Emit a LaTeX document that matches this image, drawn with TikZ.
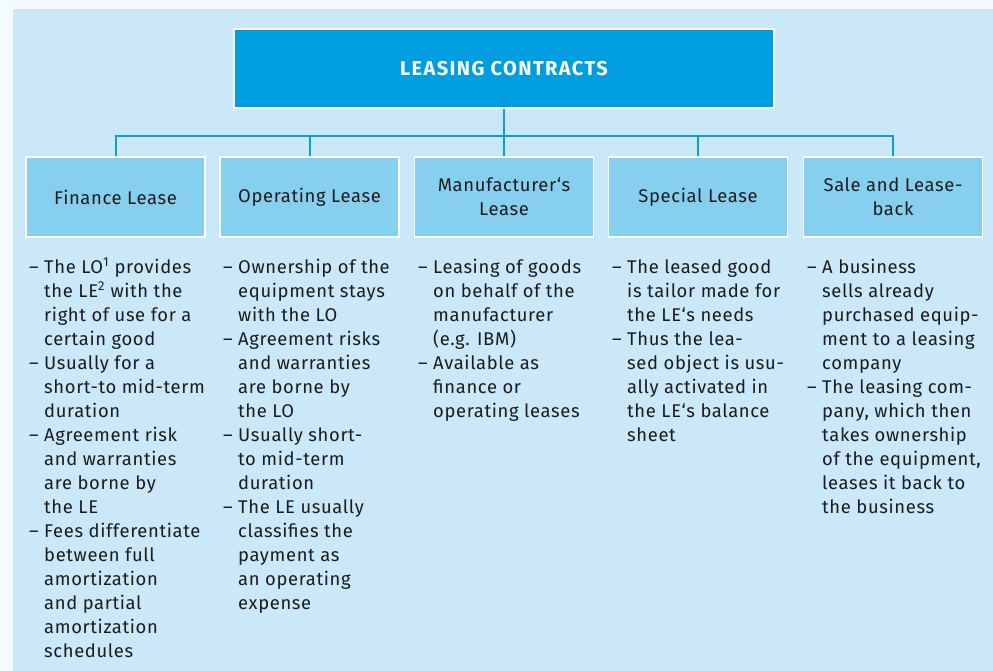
\documentclass[tikz,border=0pt]{standalone}
\usepackage{fontspec}
\setmainfont{Fira Sans}[LetterSpace=3.5]
\newfontfamily\headfont{Fira Sans}[LetterSpace=7]
\usetikzlibrary{positioning}
\definecolor{pagebg}{HTML}{F3F9FD}
\definecolor{panelbg}{HTML}{CAE8F8}
\definecolor{titlebg}{HTML}{009EE0}
\definecolor{catbg}{HTML}{87CFEF}
\definecolor{linkc}{HTML}{0A9DDF}
\definecolor{txt}{HTML}{1C1C1C}
\newcommand{\dsh}{\makebox[15pt][l]{–}}
\tikzset{
  titlebox/.style={draw=white, line width=1.2pt, fill=titlebg, text=white,
    minimum width=540pt, minimum height=79pt, inner sep=0pt,
    font=\headfont\fontsize{20}{22}\selectfont\bfseries},
  catbox/.style={draw=white, line width=1.2pt, fill=catbg, text=txt,
    minimum width=179pt, minimum height=80pt, inner sep=0pt, align=center,
    font=\fontsize{18.4}{24}\selectfont},
  itemlist/.style={anchor=base west, inner sep=0pt, text=txt,
    font=\fontsize{18.4}{24}\selectfont},
  link/.style={draw=linkc, line width=2pt}
}
\begin{document}
\begin{tikzpicture}[x=1pt,y=-1pt]
  \useasboundingbox (0,0) rectangle (993,671);
  \fill[pagebg] (0,0) rectangle (993,671);
  \fill[panelbg] (13,9) rectangle (993,671);

  % heading and categories
  \node[titlebox] (top) at (504,68.5) {LEASING CONTRACTS};
  \node[catbox] (fin) at (115.5,197) {Finance Lease};
  \node[catbox] (ope) at (309.5,197) {Operating Lease};
  \node[catbox] (man) at (504,197) {Manufacturer‘s\\Lease};
  \node[catbox] (spe) at (698,197) {Special Lease};
  \node[catbox] (sal) at (893,197) {Sale and Lease-\\back};

  % tree connectors
  \coordinate (bus) at (504,136);
  \draw[link] (top.south) -- (bus);
  \draw[link] (fin.north) |- (bus);
  \draw[link] (ope.north) |- (bus);
  \draw[link] (man.north) -- (bus);
  \draw[link] (spe.north) |- (bus);
  \draw[link] (sal.north) |- (bus);

  % item lists
  \node[itemlist] (finl) at (29,273) {\begin{tabular}[t]{@{}l@{}l@{}}
    \dsh & The LO\textsuperscript{1} provides\\
    & the LE\textsuperscript{2} with the\\
    & right of use for a\\
    & certain good\\
    \dsh & Usually for a\\
    & short-to mid-term\\
    & duration\\
    \dsh & Agreement risk\\
    & and warranties\\
    & are borne by\\
    & the LE\\
    \dsh & Fees differentiate\\
    & between full\\
    & amortization\\
    & and partial\\
    & amortization\\
    & schedules
  \end{tabular}};
  \node[itemlist] (opel) at (223,273) {\begin{tabular}[t]{@{}l@{}l@{}}
    \dsh & Ownership of the\\
    & equipment stays\\
    & with the LO\\
    \dsh & Agreement risks\\
    & and warranties\\
    & are borne by\\
    & the LO\\
    \dsh & Usually short-\\
    & to mid-term\\
    & duration\\
    \dsh & The LE usually\\
    & classifies the\\
    & payment as\\
    & an operating\\
    & expense
  \end{tabular}};
  \node[itemlist] (manl) at (418,273) {\begin{tabular}[t]{@{}l@{}l@{}}
    \dsh & Leasing of goods\\
    & on behalf of the\\
    & manufacturer\\
    & (e.g. IBM)\\
    \dsh & Available as\\
    & finance or\\
    & operating leases
  \end{tabular}};
  \node[itemlist] (spel) at (612,273) {\begin{tabular}[t]{@{}l@{}l@{}}
    \dsh & The leased good\\
    & is tailor made for\\
    & the LE‘s needs\\
    \dsh & Thus the lea-\\
    & sed object is usu-\\
    & ally activated in\\
    & the LE‘s balance\\
    & sheet
  \end{tabular}};
  \node[itemlist] (sall) at (807,273) {\begin{tabular}[t]{@{}l@{}l@{}}
    \dsh & A business\\
    & sells already\\
    & purchased equip-\\
    & ment to a leasing\\
    & company\\
    \dsh & The leasing com-\\
    & pany, which then\\
    & takes ownership\\
    & of the equipment,\\
    & leases it back to\\
    & the business
  \end{tabular}};
\end{tikzpicture}
\end{document}
